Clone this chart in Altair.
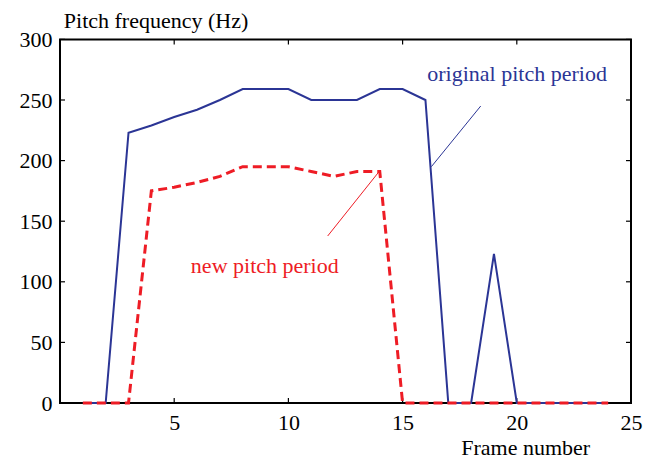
import altair as alt
import pandas as pd

frames = list(range(1, 25))
original_pitch = [0, 0, 223, 229, 236, 242, 250, 259, 259, 259, 250, 250, 250, 259, 259, 250,
                  0, 0, 123, 0, 0, 0, 0, 0]
new_pitch = [0, 0, 0, 175, 178, 182, 187, 195, 195, 195, 191, 187, 191, 191, 0, 0,
             0, 0, 0, 0, 0, 0, 0, 0]
x_ticks = [5, 10, 15, 20, 25]
y_ticks = [0, 50, 100, 150, 200, 250, 300]

# annotation texts and their leader lines (data coordinates)
label_text = ["original pitch period", "new pitch period"]
label_x = [16.08, 5.73]
label_y = [265.9, 107.0]
leader_x = [18.42, 11.72]
leader_y = [245.0, 137.8]
leader_x2 = [16.26, 13.93]
leader_y2 = [195.0, 190.0]

BLUE = "#2b3595"
RED = "#ee1c25"
FONT = "Liberation Serif"
W, H = 571, 363.6

df = pd.DataFrame({"frame": frames, "orig": original_pitch, "new": new_pitch})
ann = pd.DataFrame({"text": label_text, "x": label_x, "y": label_y,
                    "lx": leader_x, "ly": leader_y, "lx2": leader_x2, "ly2": leader_y2,
                    "c": [BLUE, RED]})
xt = pd.DataFrame({"v": x_ticks})
yt = pd.DataFrame({"v": y_ticks})
one = pd.DataFrame({"v": [0]})

xs = alt.Scale(domain=[0, 25], nice=False, zero=False)
ys = alt.Scale(domain=[0, 300], nice=False)

xaxis = alt.Axis(values=x_ticks, ticks=False, domain=False, grid=False, zindex=0,
                 labelFont=FONT, labelFontSize=22, labelColor="black", labelPadding=9,
                 labelFlush=False, labelOverlap=False, labelBound=False,
                 title="Frame number", titleFont=FONT, titleFontSize=22, titleFontWeight="normal",
                 titleColor="black", titleAlign="left", titleBaseline="alphabetic",
                 titleX=400.7, titleY=51)
yaxis = alt.Axis(values=y_ticks, ticks=False, domain=False, grid=False, zindex=0,
                 labelFont=FONT, labelFontSize=22, labelColor="black", labelPadding=8,
                 labelFlush=False, labelOverlap=False, labelBound=False,
                 title="Pitch frequency (Hz)", titleFont=FONT, titleFontSize=22,
                 titleFontWeight="normal", titleColor="black", titleAngle=0,
                 titleAlign="left", titleBaseline="alphabetic", titleX=3.3, titleY=-11.5)

base = alt.Chart(df)
blue = base.mark_line(color=BLUE, strokeWidth=2).encode(
    x=alt.X("frame:Q", scale=xs, axis=xaxis),
    y=alt.Y("orig:Q", scale=ys, axis=yaxis))
red = base.mark_line(color=RED, strokeWidth=3, strokeDash=[9, 5]).encode(
    x=alt.X("frame:Q", scale=xs),
    y=alt.Y("new:Q", scale=ys))

leaders = alt.Chart(ann).mark_rule(strokeWidth=1).encode(
    x=alt.X("lx:Q", scale=xs), y=alt.Y("ly:Q", scale=ys),
    x2="lx2:Q", y2="ly2:Q",
    color=alt.Color("c:N", scale=None))
texts = alt.Chart(ann).mark_text(font=FONT, fontSize=22, align="left", baseline="alphabetic").encode(
    x=alt.X("x:Q", scale=xs), y=alt.Y("y:Q", scale=ys), text="text:N",
    color=alt.Color("c:N", scale=None))

tb = alt.Chart(xt).mark_rule(color="black", strokeWidth=1.2).encode(
    x=alt.X("v:Q", scale=xs), y=alt.value(H), y2=alt.value(H - 5))
tt = alt.Chart(xt).mark_rule(color="black", strokeWidth=1.2).encode(
    x=alt.X("v:Q", scale=xs), y=alt.value(0), y2=alt.value(5))
tl = alt.Chart(yt).mark_rule(color="black", strokeWidth=1.2).encode(
    y=alt.Y("v:Q", scale=ys), x=alt.value(0), x2=alt.value(5))
tr = alt.Chart(yt).mark_rule(color="black", strokeWidth=1.2).encode(
    y=alt.Y("v:Q", scale=ys), x=alt.value(W), x2=alt.value(W - 5))

# plot box (drawn beneath the data lines)
border = alt.Chart(one).mark_rect(fill=None, stroke="black", strokeWidth=2).encode(
    x=alt.value(0), x2=alt.value(W), y=alt.value(0), y2=alt.value(H))

chart = alt.layer(border, tb, tt, tl, tr, blue, red, leaders, texts).properties(
    width=W, height=H,
    background="white",
    autosize=alt.AutoSizeParams(type="none"),
    padding={"left": 52, "top": 31.4, "right": 17, "bottom": 55},
).configure_view(stroke=None)

chart.save("out.html", embed_options={"renderer": "svg", "actions": False})
